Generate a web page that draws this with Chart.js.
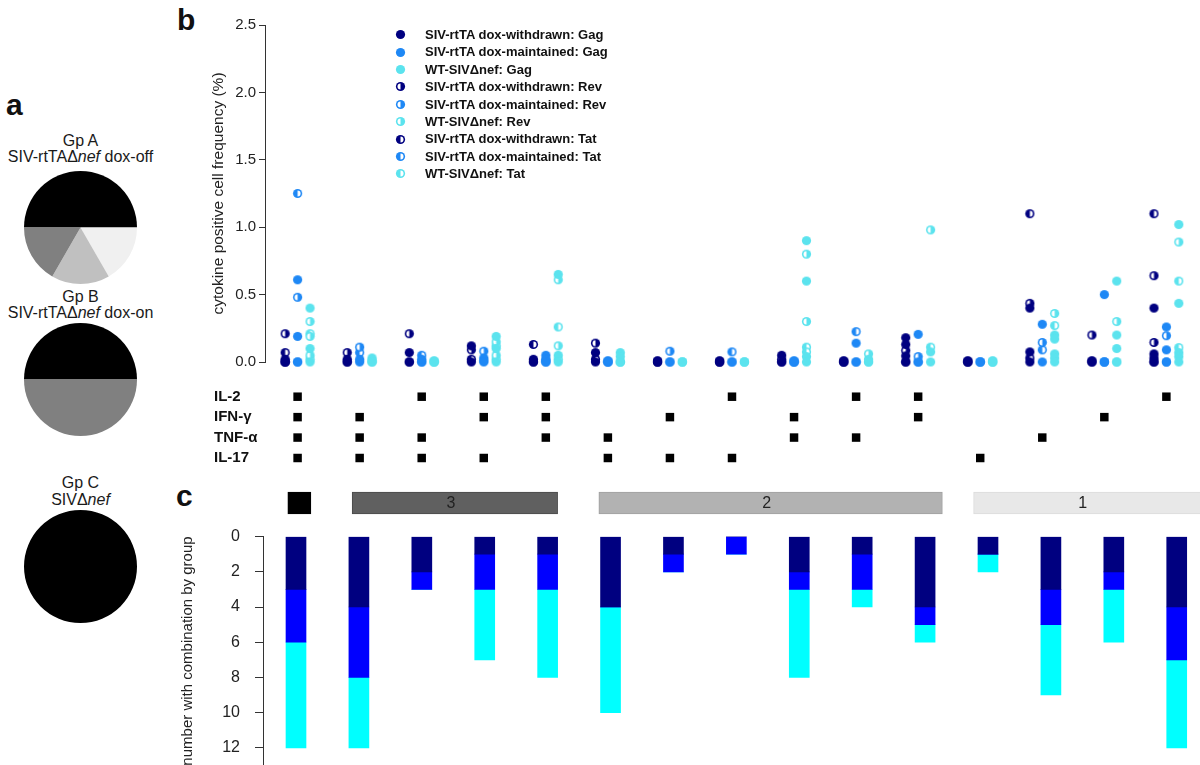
<!DOCTYPE html>
<html><head><meta charset="utf-8">
<script src="https://cdn.jsdelivr.net/npm/chart.js@4.4.1/dist/chart.umd.min.js"></script>
<style>
html,body{margin:0;padding:0;background:#fff;width:1200px;height:765px;overflow:hidden;position:relative;
  font-family:'Liberation Sans',Arial,Helvetica,sans-serif;color:#1a1a1a}
canvas{position:absolute;display:block}
.t{position:absolute;white-space:nowrap;line-height:1}
.letter{font-size:30px;font-weight:bold;color:#111}
.pt{font-size:16px;left:0;width:161px;text-align:center;color:#1a1a1a}
#legend{position:absolute;left:395px;top:26px}
.lrow{position:relative;height:17.4px;line-height:17.4px;font-size:13px;font-weight:bold;color:#111;white-space:nowrap}
.lrow canvas{position:absolute;left:0;top:3.2px}
.lrow span{position:absolute;left:30px;top:0}
</style></head>
<body>
<div class="t letter" style="left:6px;top:89.6px">a</div>
<div class="t letter" style="left:177px;top:4.6px">b</div>
<div class="t letter" style="left:176px;top:480.6px">c</div>

<div class="t pt" style="top:132.5px">Gp A</div>
<div class="t pt" style="top:148.5px">SIV-rtTAΔ<i>nef</i> dox-off</div>
<div class="t pt" style="top:288.5px">Gp B</div>
<div class="t pt" style="top:304.5px">SIV-rtTAΔ<i>nef</i> dox-on</div>
<div class="t pt" style="top:474.5px">Gp C</div>
<div class="t pt" style="top:491.5px">SIVΔ<i>nef</i></div>

<canvas id="pieA" width="113" height="113" style="left:24px;top:171px"></canvas>
<canvas id="pieB" width="113" height="113" style="left:24px;top:322.5px"></canvas>
<canvas id="pieC" width="113" height="113" style="left:24px;top:510px"></canvas>

<canvas id="cvB" width="995" height="380" style="left:205px;top:0px"></canvas>
<canvas id="cvM" width="986" height="90" style="left:214px;top:380px"></canvas>
<canvas id="cvG" width="935" height="42" style="left:265px;top:482px"></canvas>
<canvas id="cvC" width="1025" height="278" style="left:175px;top:512px"></canvas>
<div id="legend"></div>

<script>
// ---------------- DATA ----------------
// pie slices, in order: 4 functions, 1 function, 2 functions, 3 functions
const pieCategories = ['4', '1', '2', '3'];
const gpA = [3, 1, 1, 1];
const gpB = [1, 0, 0, 1];
const gpC = [1, 0, 0, 0];

// cytokine combinations (columns 1..15)
const cytokines = ['IL-2', 'IFN-γ', 'TNF-α', 'IL-17'];
const il2  = [1,0,1,1,1,0,0,1,0,1,1,0,0,0,1];
const ifng = [1,1,0,1,1,0,1,0,1,0,1,0,0,1,0];
const tnfa = [1,1,1,0,1,1,0,0,1,1,0,0,1,0,0];
const il17 = [1,1,1,1,0,1,1,1,0,0,0,1,0,0,0];

// panel b: cytokine positive cell frequency (%), per column
const wdGag = [[0,0.02,0],[0,0.02],[0.07,0],[0.12,0],[0,0.02],[0.07,0],[0,0.01],[0,0.01],[0.05,0],[0,0.01],[0.18,0.13,0.045,0],[0,0.01],[0.40,0.075,0],[0,0.01],[0.40,0.06,0.03,0]];
const mtGag = [[0.61,0.19,0],[0,0.02],[0,0.02],[0.03,0],[0.05,0.02,0],[0,0.01],[0],[0],[0,0.01],[0.14,0],[0.205,0],[0],[0.28,0],[0.50,0],[0.26,0.09,0]];
const wtGag = [[0.40,0.10,0],[0.03,0],[0.01,0],[0.19,0.10,0],[0.65,0.05,0],[0.07,0.04,0],[0],[0],[0.90,0.60,0.04,0],[0.02,0],[0.075,0],[0.01,0],[0.20,0.17,0.06,0.03,0],[0.60,0.20,0.10,0],[1.02,0.435,0.07,0.04,0]];
const wdRev = [[0.21],[0.07],[0.21],[0.09],[0],[0.14],[0],[0],[0.02],[0],[0.085],[0],[0.435],[0.20],[0.64,0.145]];
const mtRev = [[0.48],[0.11],[0],[0.08],[0],[0],[0.08],[0],[0],[0],[0.04],[0],[0.145],[0],[0.195]];
const wtRev = [[0.30,0.19,0.05],[0.01],[0],[0.15,0.05],[0.61,0.12],[0],[0],[0],[0.80,0.30],[0.06],[0.98],[0],[0.36],[0.30],[0.89]];
const wdTat = [[0.07,0],[0],[0],[0.02],[0.13],[0.02],[0],[0],[0],[0],[0],[0],[1.10,0.03],[0],[1.10,0]];
const mtTat = [[1.25,0],[0.07],[0.05],[0.01],[0.01],[0],[0],[0.075],[0],[0.225],[0],[0],[0.09],[0],[0]];
const wtTat = [[0.21,0.02],[0],[0],[0.12,0.02],[0.26,0.02],[0],[0],[0],[0.11,0.075],[0],[0.11],[0],[0.27],[0],[0.60,0.107]];

// panel c: number of animals with each combination, per group
const countWithdrawn  = [3,4,2,1,1,4,1,0,2,1,4,1,3,2,4];
const countMaintained = [3,4,1,2,2,0,1,1,1,2,1,0,2,1,3];
const countWT         = [6,4,0,4,5,6,0,0,5,1,1,1,4,3,5];

// number-of-functions groups
const groupText  = ['', '3', '2', '1'];
const groupFirst = [1, 2, 6, 12];
const groupLast  = [1, 5, 11, 15];

// ---------------- STYLE ----------------
const FONT = "'Liberation Sans', Arial, Helvetica, sans-serif";
const NARROW = "'Liberation Sans Narrow', 'Liberation Sans', Arial, sans-serif";
const NAVY = '#000080', DBLUE = '#1E88F5', LCYAN = '#5BE3EE';
Chart.defaults.font.family = FONT;
Chart.defaults.color = '#222';
const base = {responsive:false, animation:false, devicePixelRatio:1,
  plugins:{legend:{display:false}, tooltip:{enabled:false}}};
const xB = {min:0.4748, max:15.445};   // columns for panels b / matrix
const xC = {min:0.4754, max:15.370};   // columns for panel c bars
const boxPadL = [0.16, 0.13, 0.18, 0.18], boxPadR = [0.21, 0.16, 0.32, 1];

function markerCanvas(color, half){
  const s = 11, c = document.createElement('canvas'); c.width = s; c.height = s;
  const g = c.getContext('2d'), r = 4.6, m = s/2;
  g.fillStyle = color; g.beginPath(); g.arc(m,m,r,0,Math.PI*2); g.fill();
  if (half){
    g.fillStyle = '#fff'; g.beginPath(); g.moveTo(m,m);
    if (half === 'left') g.arc(m,m,r-1.6,Math.PI/2,Math.PI*1.5);
    else g.arc(m,m,r-1.6,-Math.PI/2,Math.PI/2);
    g.closePath(); g.fill();
  }
  return c;
}
function toPoints(vals, off){
  const pts = [];
  vals.forEach((list, i) => list.forEach(v => pts.push({x: i + 1 + off, y: v})));
  return pts;
}

// ---------------- PIES ----------------
const pieColors = ['#000000', '#f0f0f0', '#c0c0c0', '#808080'];
[['pieA', gpA], ['pieB', gpB], ['pieC', gpC]].forEach(([id, d]) => {
  new Chart(document.getElementById(id), {
    type:'pie',
    data:{labels: pieCategories, datasets:[{data:d, backgroundColor:pieColors, borderWidth:0}]},
    options:Object.assign({}, base, {rotation:-90, layout:{padding:0}})
  });
});

// ---------------- PANEL b ----------------
const series = [
  {label:'SIV-rtTA dox-withdrawn: Gag', v:wdGag, c:NAVY,  h:null,    o:-0.2},
  {label:'SIV-rtTA dox-maintained: Gag',v:mtGag, c:DBLUE, h:null,    o:0},
  {label:'WT-SIVΔnef: Gag',             v:wtGag, c:LCYAN, h:null,    o:0.2},
  {label:'SIV-rtTA dox-withdrawn: Rev', v:wdRev, c:NAVY,  h:'left',  o:-0.2},
  {label:'SIV-rtTA dox-maintained: Rev',v:mtRev, c:DBLUE, h:'left',  o:0},
  {label:'WT-SIVΔnef: Rev',             v:wtRev, c:LCYAN, h:'left',  o:0.2},
  {label:'SIV-rtTA dox-withdrawn: Tat', v:wdTat, c:NAVY,  h:'right', o:-0.2},
  {label:'SIV-rtTA dox-maintained: Tat',v:mtTat, c:DBLUE, h:'right', o:0},
  {label:'WT-SIVΔnef: Tat',             v:wtTat, c:LCYAN, h:'right', o:0.2}
];
const chartB = new Chart(document.getElementById('cvB'), {
  type:'scatter',
  data:{datasets: series.map(s => ({label:s.label, data:toPoints(s.v, s.o),
    pointStyle:markerCanvas(s.c, s.h), pointRadius:5, backgroundColor:s.c, borderColor:s.c, clip:false}))},
  options:Object.assign({}, base, {
    layout:{padding:{top:25, bottom:18, left:0, right:0}},
    scales:{
      x:{type:'linear', display:false, min:xB.min, max:xB.max},
      y:{type:'linear', min:0, max:2.5, afterFit:s => {s.width = 60;},
        border:{display:true, color:'#333', width:1},
        grid:{drawOnChartArea:false, drawTicks:true, tickLength:6, color:'#333'},
        ticks:{stepSize:0.5, padding:3, color:'#222', font:{size:15}, callback:v => Number(v).toFixed(1)},
        title:{display:true, text:'cytokine positive cell frequency (%)', color:'#222', font:{size:15.5}, padding:{top:4, bottom:0}}}
    }
  })
});
// HTML legend built from chart datasets
const legend = document.getElementById('legend');
chartB.data.datasets.forEach(ds => {
  const row = document.createElement('div'); row.className = 'lrow';
  const c = document.createElement('canvas'); c.width = 11; c.height = 11;
  c.getContext('2d').drawImage(ds.pointStyle, 0, 0);
  const sp = document.createElement('span'); sp.textContent = ds.label;
  row.appendChild(c); row.appendChild(sp); legend.appendChild(row);
});

// ---------------- MATRIX ----------------
const flags = [il2, ifng, tnfa, il17];
const matrixPts = [];
flags.forEach((f, r) => f.forEach((on, i) => { if (on) matrixPts.push({x:i + 1, y:cytokines[r]}); }));
const mctx = document.createElement('canvas').getContext('2d');
mctx.font = 'bold 15px ' + FONT;
const widest = Math.max(...cytokines.map(t => mctx.measureText(t).width));
new Chart(document.getElementById('cvM'), {
  type:'scatter',
  data:{datasets:[{label:'combination', data:matrixPts, pointStyle:'rect', pointRadius:6,
    backgroundColor:'#000', borderWidth:0, clip:false}]},
  options:Object.assign({}, base, {
    layout:{padding:{top:16.7, bottom:12, left:0, right:0}},
    scales:{
      x:{type:'linear', display:false, min:xB.min, max:xB.max},
      y:{type:'category', labels:cytokines, offset:false, afterFit:s => {s.width = 51;},
        border:{display:false}, grid:{display:false, drawTicks:false},
        ticks:{autoSkip:false, crossAlign:'far', padding:41 - widest, color:'#111', font:{size:15, weight:'bold'}}}
    }
  })
});

// ---------------- GROUP BOXES ----------------
const boxColors = ['#000000', '#606060', '#b2b2b2', '#e8e8e8'];
const boxBorders = ['#000000', '#4a4a4a', '#a0a0a0', '#dcdcdc'];
const boxLabels = {id:'boxLabels', afterDatasetsDraw(chart){
  const ctx = chart.ctx; ctx.save(); ctx.font = '16px ' + FONT; ctx.fillStyle = '#222';
  ctx.textAlign = 'center'; ctx.textBaseline = 'middle';
  chart.data.datasets.forEach((ds, i) => {
    const el = chart.getDatasetMeta(i).data[0];
    const r = Math.min(el.x, chart.chartArea.right), l = Math.max(el.base, chart.chartArea.left);
    ctx.fillText(groupText[i], (l + r) / 2 - 4, el.y + 1);
  });
  ctx.restore();
}};
new Chart(document.getElementById('cvG'), {
  type:'bar',
  data:{labels:['functions'], datasets: groupText.map((t, i) => ({label:'group ' + (4 - i),
    data:[[groupFirst[i] - boxPadL[i], groupLast[i] + boxPadR[i]]],
    backgroundColor:boxColors[i], borderColor:boxBorders[i], borderWidth:1, borderSkipped:false,
    barThickness:22, grouped:false}))},
  options:Object.assign({}, base, {indexAxis:'y', layout:{padding:0},
    scales:{x:{type:'linear', display:false, min:xB.min, max:xB.max}, y:{display:false}}}),
  plugins:[boxLabels]
});

// ---------------- PANEL c ----------------
const barPts = arr => arr.map((v, i) => ({x:i + 1, y:v}));
new Chart(document.getElementById('cvC'), {
  type:'bar',
  data:{datasets:[
    {label:'SIV-rtTA dox-withdrawn', data:barPts(countWithdrawn), backgroundColor:'#000080'},
    {label:'SIV-rtTA dox-maintained', data:barPts(countMaintained), backgroundColor:'#0000ff'},
    {label:'WT-SIVΔnef', data:barPts(countWT), backgroundColor:'#00ffff'}
  ].map(d => Object.assign(d, {barThickness:20, borderWidth:0}))},
  options:Object.assign({}, base, {
    layout:{padding:0},
    scales:{
      x:{type:'linear', display:false, offset:false, grid:{offset:false}, stacked:true, min:xC.min, max:xC.max},
      y:{stacked:true, reverse:true, min:0, max:13, afterFit:s => {s.width = 88;},
        border:{display:true, color:'#333', width:1},
        grid:{drawOnChartArea:false, drawTicks:true, tickLength:8, color:'#333'},
        ticks:{stepSize:2, includeBounds:false, padding:15, color:'#222', font:{size:16, family:NARROW}},
        title:{display:true, text:'number with combination by group', color:'#222', font:{size:15}, padding:{top:4, bottom:0}}}
    }
  })
});
</script>
</body></html>
